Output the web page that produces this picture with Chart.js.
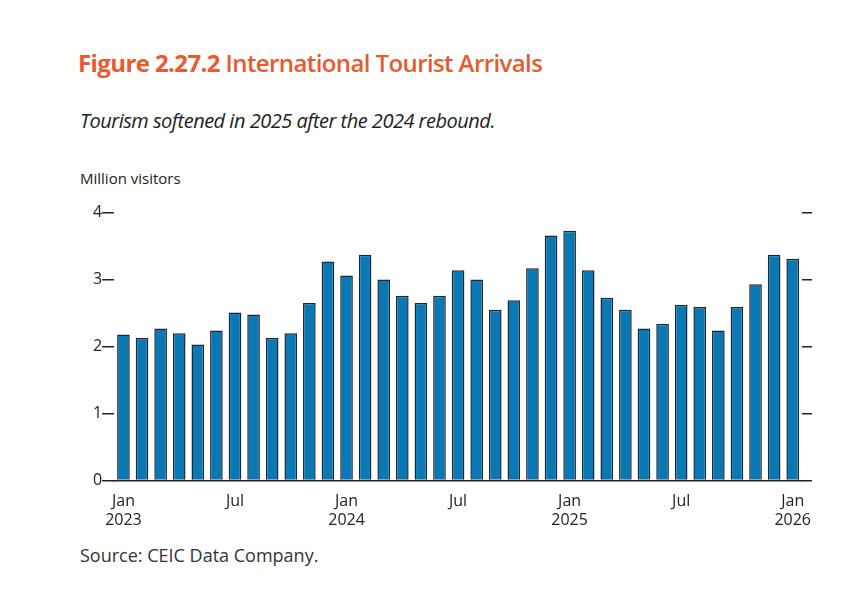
<!DOCTYPE html>
<html><head><meta charset="utf-8">
<script src="https://cdn.jsdelivr.net/npm/chart.js@4"></script>
<style>
body{margin:0;background:#fff;font-family:"Open Sans",Lato,sans-serif;width:860px;height:603px;position:relative;overflow:hidden}
.t{position:absolute;white-space:nowrap}
#title{left:78px;top:46px;font-size:24px;font-weight:bold;color:#ea5a2e;letter-spacing:-0.6px}
#sub{left:80px;top:107px;font-size:20px;font-style:italic;color:#222;letter-spacing:-0.5px}
#unit{left:80px;top:168px;font-size:15px;color:#222}
#src{left:80px;top:543px;font-size:18px;color:#333}
#wrap{position:absolute;left:93px;top:203px;width:729px;height:330px}
</style></head><body>
<div class="t" id="title">Figure 2.27.2 <span style="font-weight:600">International Tourist Arrivals</span></div>
<div class="t" id="sub">Tourism softened in 2025 after the 2024 rebound.</div>
<div class="t" id="unit">Million visitors</div>
<div id="wrap"><canvas id="c"></canvas></div>
<div class="t" id="src">Source: CEIC Data Company.</div>
<script>
// monthly, Jan 2023 .. Jan 2026
const months = ['Jan','Feb','Mar','Apr','May','Jun','Jul','Aug','Sep','Oct','Nov','Dec'];
const years = [2023, 2024, 2025, 2026];
const arrivals2023 = [2.18,2.13,2.27,2.20,2.03,2.24,2.51,2.48,2.13,2.20,2.65,3.27];
const arrivals2024 = [3.06,3.37,3.00,2.76,2.65,2.76,3.14,3.00,2.55,2.69,3.17,3.66];
const arrivals2025 = [3.73,3.14,2.73,2.55,2.27,2.34,2.62,2.59,2.24,2.59,2.93,3.37];
const arrivals2026 = [3.31];
const yTicks = [0,1,2,3,4];

const labels = [];
[arrivals2023, arrivals2024, arrivals2025, arrivals2026].forEach((arr, i) => {
    arr.forEach((_, m) => labels.push({ m: months[m], y: years[i] }));
});
const values = [...arrivals2023, ...arrivals2024, ...arrivals2025, ...arrivals2026];

const tickFont = { family: 'Open Sans', size: 16 };
new Chart(document.getElementById('c'), {
    type: 'bar',
    data: {
        labels: labels.map(l => l.m),
        datasets: [{
            data: values,
            backgroundColor: '#0a78b4',
            borderColor: '#1b2733',
            borderWidth: 1.5,
            barPercentage: 0.68,
            categoryPercentage: 1
        }]
    },
    options: {
        responsive: true, maintainAspectRatio: false, animation: false,
        layout: { padding: { top: 8, right: 10 } },
        plugins: { legend: { display: false }, tooltip: { enabled: false } },
        scales: {
            x: {
                offset: true,
                grid: { display: false },
                border: { color: '#222', width: 1.5 },
                ticks: {
                    color: '#222', font: tickFont, autoSkip: false, maxRotation: 0,
                    callback(v, i) {
                        const l = labels[i];
                        if (l.m === 'Jan') return [l.m, String(l.y)];
                        if (l.m === 'Jul') return l.m;
                        return '';
                    }
                }
            },
            y: {
                min: 0, max: 4,
                afterBuildTicks(ax) { ax.ticks = yTicks.map(v => ({ value: v })); },
                grid: { drawOnChartArea: false, tickLength: 12, color: '#222', lineWidth: 1.5 },
                border: { display: false },
                ticks: { color: '#222', font: tickFont, padding: 0 }
            },
            y2: {
                position: 'right', min: 0, max: 4,
                afterBuildTicks(ax) { ax.ticks = yTicks.map(v => ({ value: v })); },
                grid: { drawOnChartArea: false, tickLength: 10, color: '#222', lineWidth: 1.5 },
                border: { display: false },
                ticks: { callback: () => '', padding: 0 }
            }
        }
    }
});
</script>
</body></html>
